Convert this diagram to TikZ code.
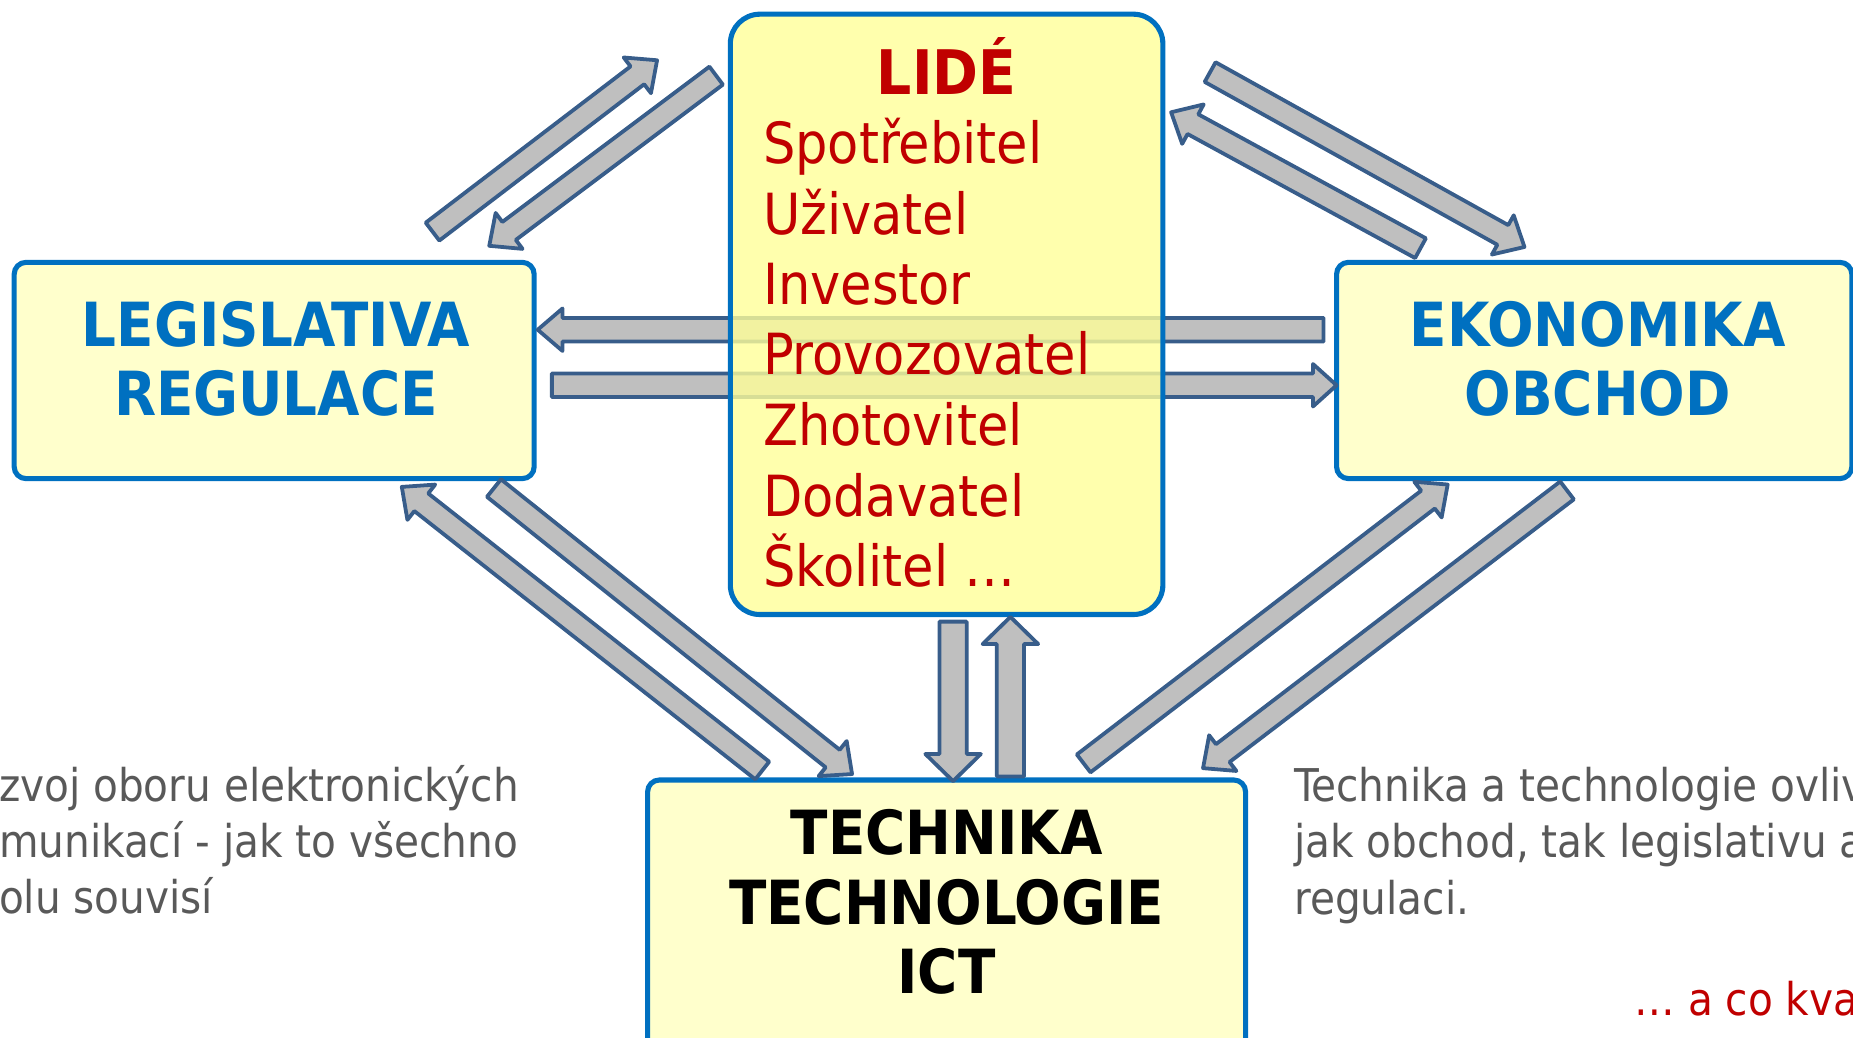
\documentclass[tikz,border=0pt]{standalone}
\usepackage{fontspec}
\setmainfont{DejaVu Sans Condensed}
\usetikzlibrary{calc}
\definecolor{boxblue}{HTML}{0070C0}
\definecolor{boxfill}{HTML}{FFFFCC}
\definecolor{lidefill}{HTML}{FFFF99}
\definecolor{arrfill}{HTML}{BFBFBF}
\definecolor{arrline}{HTML}{385D8A}
\definecolor{darkred}{HTML}{C00000}
\definecolor{txtgray}{HTML}{595959}
\tikzset{
  box/.style={draw=boxblue, line width=4.3pt, fill=boxfill, rounded corners=10pt, inner sep=0pt},
  arr/.style={draw=arrline, fill=arrfill, line width=3.2pt, line join=round},
  boxtitle/.style={font=\bfseries\fontsize{51.5}{60}\selectfont, anchor=base, inner sep=0pt},
  listitem/.style={font=\fontsize{48}{60}\selectfont, text=darkred, anchor=base west, inner sep=0pt},
  note/.style={font=\fontsize{38.2}{48}\selectfont, text=txtgray, anchor=base west, inner sep=0pt},
}
% tail, tip, half shaft width, half head width, head length
\newcommand\blockarr[5]{%
  \coordinate (hb) at ($(#2)!#5!(#1)$);
  \draw[arr] ($(#1)!#3!90:(#2)$) -- ($(hb)!#3!-90:(#1)$) -- ($(hb)!#4!-90:(#1)$) -- (#2)
    -- ($(hb)!#4!90:(#1)$) -- ($(hb)!#3!90:(#1)$) -- ($(#1)!#3!-90:(#2)$) -- cycle;}
\begin{document}
\begin{tikzpicture}[x=1pt,y=-1pt]
\useasboundingbox (0,0) rectangle (1568,878);

% boxes
\node[box, minimum width=440pt, minimum height=183pt] (leg) at (232,313.5) {};
\node[box, minimum width=436pt, minimum height=183pt] (eko) at (1349,313.5) {};
\node[box, minimum width=506pt, minimum height=240pt] (tech) at (801,780) {};

% horizontal arrows (behind the LIDE box)
\coordinate (kT) at (1120,279); \coordinate (kH) at (455,279);
\coordinate (lT) at (467,326);  \coordinate (lH) at (1131,326);
\blockarr{kT}{kH}{10pt}{18pt}{21pt}
\blockarr{lT}{lH}{10pt}{18pt}{20pt}

\node[box, fill=lidefill, fill opacity=0.8, rounded corners=25pt,
      minimum width=366pt, minimum height=508pt] (lide) at (801,266) {};

% diagonal arrows
\coordinate (aT) at (366,196);  \coordinate (aH) at (556,51);
\coordinate (bT) at (606,64);   \coordinate (bH) at (414,208);
\coordinate (cT) at (1024,61);  \coordinate (cH) at (1290,209);
\coordinate (dT) at (1202,210); \coordinate (dH) at (991,95);
\coordinate (eT) at (645,652);  \coordinate (eH) at (340,412);
\coordinate (fT) at (418,413);  \coordinate (fH) at (721,655);
\coordinate (iT) at (917,646);  \coordinate (iH) at (1225,410);
\coordinate (jT) at (1326,415); \coordinate (jH) at (1018,650);
\foreach \a in {a,b,c,d,e,f,i,j}{\blockarr{\a T}{\a H}{9.5pt}{19pt}{21pt}}

% vertical arrows
\coordinate (gT) at (806.5,526); \coordinate (gH) at (806.5,661);
\coordinate (hT) at (855,657);   \coordinate (hH) at (855,522);
\blockarr{gT}{gH}{11.5pt}{23.5pt}{23pt}
\blockarr{hT}{hH}{11.5pt}{23.5pt}{23pt}

% texts in boxes
\node[boxtitle, text=boxblue] (leg1) at (233.5,293) {LEGISLATIVA};
\node[boxtitle, text=boxblue] (leg2) at (233.5,352) {REGULACE};
\node[boxtitle, text=boxblue] (eko1) at (1352,293) {EKONOMIKA};
\node[boxtitle, text=boxblue] (eko2) at (1352,352) {OBCHOD};
\node[boxtitle, text=black] (tech1) at (801,723) {TECHNIKA};
\node[boxtitle, text=black] (tech2) at (801,782) {TECHNOLOGIE};
\node[boxtitle, text=black] (tech3) at (801,841) {ICT};
\node[boxtitle, text=darkred, font=\bfseries\fontsize{52}{60}\selectfont] (lide0) at (801,79.6) {LIDÉ};
\node[listitem] (li1) at (645.5,138.6) {Spotřebitel};
\node[listitem] (li2) at (645.5,198.2) {Uživatel};
\node[listitem] (li3) at (645.5,257.5) {Investor};
\node[listitem] (li4) at (645.5,317.1) {Provozovatel};
\node[listitem] (li5) at (645.5,377.1) {Zhotovitel};
\node[listitem] (li6) at (645.5,436.8) {Dodavatel};
\node[listitem] (li7) at (645.5,496.4) {Školitel …};

% side notes
\node[note] (n1) at (-1,678.6) {zvoj oboru elektronických};
\node[note] (n2) at (-1,725.5) {munikací - jak to všechno};
\node[note] (n3) at (-1,773) {olu souvisí};
\node[note] (m1) at (1095,678) {Technika a technologie ovliv};
\node[note] (m2) at (1095,726) {jak obchod, tak legislativu a};
\node[note] (m3) at (1095,774) {regulaci.};
\node[note, text=darkred] (q) at (1383,859) {… a co kva};
\end{tikzpicture}
\end{document}
